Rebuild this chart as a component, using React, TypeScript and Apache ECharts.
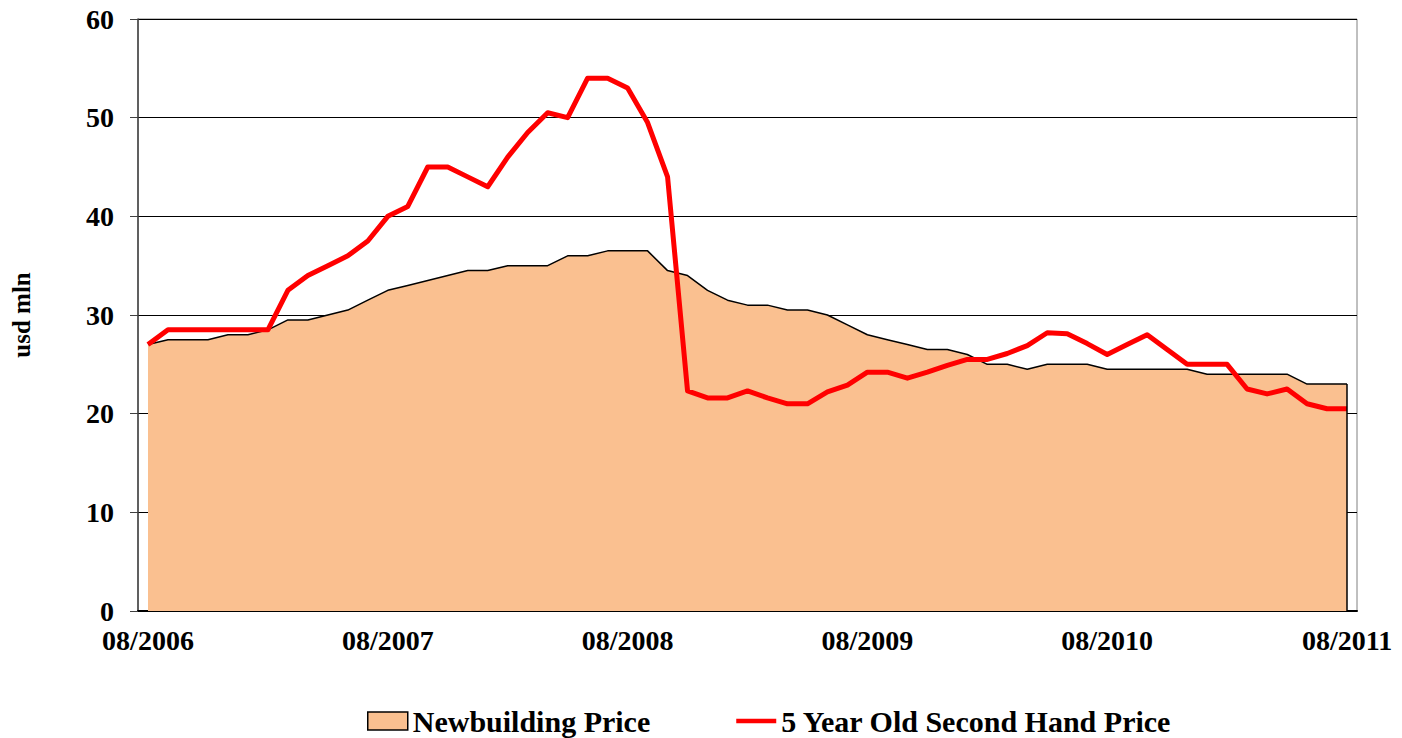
import React, { useEffect, useRef } from "react";
import * as echarts from "echarts";

const months: string[] = (() => {
  const out: string[] = [];
  for (let i = 0; i <= 60; i++) {
    const m = ((7 + i) % 12) + 1;
    const y = 2006 + Math.floor((7 + i) / 12);
    out.push(`${m < 10 ? "0" + m : m}/${y}`);
  }
  return out;
})();

const newbuildingPrice: number[] = [
  27, 27.5, 27.5, 27.5, 28, 28, 28.5, 29.5, 29.5, 30, 30.5, 31.5, 32.5, 33, 33.5, 34,
  34.5, 34.5, 35, 35, 35, 36, 36, 36.5, 36.5, 36.5, 34.5, 34, 32.5, 31.5, 31, 31,
  30.5, 30.5, 30, 29, 28, 27.5, 27, 26.5, 26.5, 26, 25, 25, 24.5, 25, 25, 25,
  24.5, 24.5, 24.5, 24.5, 24.5, 24, 24, 24, 24, 24, 23, 23, 23,
];

const secondHandPrice: number[] = [
  27, 28.5, 28.5, 28.5, 28.5, 28.5, 28.5, 32.5, 34, 35, 36, 37.5, 40, 41, 45, 45,
  44, 43, 46, 48.5, 50.5, 50, 54, 54, 53, 49.5, 44, 22.3, 21.6, 21.6, 22.3, 21.6,
  21, 21, 22.2, 22.9, 24.2, 24.2, 23.6, 24.2, 24.9, 25.5, 25.5, 26.1, 26.9, 28.2,
  28.1, 27.1, 26, 27, 28, 26.5, 25, 25, 25, 22.5, 22, 22.5, 21, 20.5, 20.5,
];

const seriesNames = ["Newbuilding Price", "5 Year Old Second Hand Price"];
const yAxisName = "usd mln";

const FONT = "'Liberation Serif', 'Times New Roman', serif";

export default function App() {
  const ref = useRef<HTMLDivElement>(null);
  useEffect(() => {
    if (!ref.current) return;
    const chart = echarts.init(ref.current, null, { renderer: "svg" });
    const last = months.length - 1;
    chart.setOption({
      animation: false,
      backgroundColor: "#ffffff",
      grid: {
        left: 138,
        right: 45,
        top: 19,
        bottom: 127,
        show: true,
        borderColor: "#808080",
        borderWidth: 1,
      },
      legend: {
        left: 362,
        top: 700,
        itemWidth: 40,
        itemHeight: 18,
        itemGap: 86,
        symbolKeepAspect: true,
        textStyle: {
          fontFamily: FONT,
          fontWeight: "bold",
          fontSize: 30,
          lineHeight: 32,
          color: "#000",
        },
        data: [
          {
            name: seriesNames[0],
            icon: "rect",
            itemStyle: { color: "#FAC090", borderColor: "#000", borderWidth: 1.5 },
          },
          {
            name: seriesNames[1],
            icon: "path://M0,0 L44,0 L44,5 L0,5 Z",
            itemStyle: { color: "#FF0000", borderWidth: 0 },
          },
        ],
      },
      xAxis: {
        type: "category",
        data: months,
        boundaryGap: true,
        axisLine: { show: true, lineStyle: { color: "#000", width: 2 } },
        axisTick: { show: false },
        splitLine: { show: false },
        axisLabel: {
          interval: 11,
          margin: 15,
          color: "#000",
          fontFamily: FONT,
          fontWeight: "bold",
          fontSize: 28,
        },
      },
      yAxis: {
        type: "value",
        min: 0,
        max: 60,
        interval: 10,
        name: yAxisName,
        nameLocation: "middle",
        nameGap: 104,
        nameTextStyle: {
          fontFamily: FONT,
          fontWeight: "bold",
          fontSize: 25,
          color: "#000",
        },
        axisLine: { show: true, lineStyle: { color: "#404040", width: 1.5 } },
        axisTick: { show: true, length: 8, lineStyle: { color: "#404040" } },
        splitLine: { show: true, lineStyle: { color: "#000", width: 1 } },
        axisLabel: {
          margin: 24,
          color: "#000",
          fontFamily: FONT,
          fontWeight: "bold",
          fontSize: 28,
        },
      },
      series: [
        {
          name: seriesNames[0],
          type: "line",
          data: newbuildingPrice,
          showSymbol: false,
          symbol: "none",
          lineStyle: { color: "#000", width: 1.5 },
          itemStyle: { color: "#FAC090" },
          areaStyle: { color: "#FAC090", opacity: 1 },
          z: 2,
          markLine: {
            silent: true,
            symbol: "none",
            label: { show: false },
            lineStyle: { color: "#000", width: 1.5, type: "solid" },
            data: [
              [
                { coord: [months[last], 0] },
                { coord: [months[last], newbuildingPrice[last]] },
              ],
            ],
          },
        },
        {
          name: seriesNames[1],
          type: "line",
          data: secondHandPrice,
          showSymbol: false,
          symbol: "none",
          lineStyle: { color: "#FF0000", width: 5, join: "round" },
          itemStyle: { color: "#FF0000" },
          z: 3,
        },
      ],
    });
    return () => chart.dispose();
  }, []);
  return (
    <div
      ref={ref}
      style={{ position: "fixed", left: 0, top: 0, width: 1402, height: 738 }}
    />
  );
}
